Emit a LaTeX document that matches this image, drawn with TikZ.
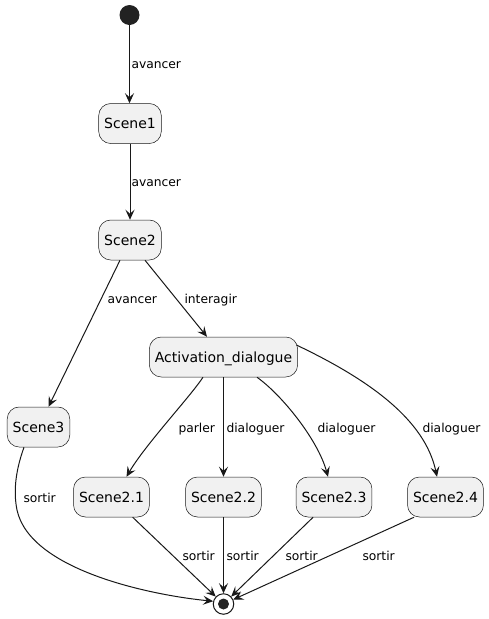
\documentclass[tikz,border=0pt]{standalone}
\usepackage{fontspec}
\setmainfont{DejaVu Sans}
\usetikzlibrary{arrows.meta}
\definecolor{ln}{HTML}{181818}
\definecolor{bx}{HTML}{F1F1F1}
\definecolor{dot}{HTML}{222222}
\begin{document}
\begin{tikzpicture}[x=1pt,y=-1pt,
 state/.style={draw=ln, line width=0.5pt, fill=bx, rounded corners=12pt, minimum height=40pt,
   inner xsep=5.5pt, inner ysep=0pt, font=\fontsize{14}{16}\selectfont, text height=10.5pt, text depth=0pt},
 arr/.style={draw=ln, line width=1pt, -{Stealth[length=10pt,width=9pt,inset=4pt]}},
 lbl/.style={anchor=base west, inner sep=0pt, font=\fontsize{12.3}{14}\selectfont}]
\useasboundingbox (0,0) rectangle (488,619);
\node[circle, fill=dot, minimum size=20pt, inner sep=0pt] (start) at (129.5,15) {};
\node[state] (s1) at (130,123.5) {Scene1};
\node[state] (s2) at (130,240) {Scene2};
\node[state] (act) at (223.5,357) {Activation\_dialogue};
\node[state] (s3) at (38.5,427) {Scene3};
\node[state] (s21) at (111.5,497) {Scene2.1};
\node[state] (s22) at (223.5,497) {Scene2.2};
\node[state] (s23) at (334,497) {Scene2.3};
\node[state] (s24) at (445.5,497) {Scene2.4};
\node[circle, draw=ln, line width=1pt, fill=white, minimum size=20.5pt, inner sep=0pt] (end) at (223.5,604) {};
\node[circle, fill=dot, minimum size=11pt, inner sep=0pt] (endin) at (end) {};

\draw[arr] (start) -- (start |- s1.north) node[lbl] at (131,68) {avancer};
\draw[arr] (s1) -- (s2) node[lbl] at (131,186) {avancer};
\draw[arr] ([xshift=-10pt]s2.south) -- ([xshift=10pt]s3.north) node[lbl] at (107,303) {avancer};
\draw[arr] ([xshift=15pt]s2.south) -- ([xshift=-16.5pt]act.north) node[lbl] at (184,303) {interagir};
\draw[arr] ([xshift=-20.5pt]act.south) .. controls (190,397) and (145,445) .. ([xshift=15pt]s21.north) node[lbl] at (178,432) {parler};
\draw[arr] (act) -- (s22) node[lbl] at (226,432) {dialoguer};
\draw[arr] ([xshift=33.5pt]act.south) .. controls (282,395) and (318,440) .. ([xshift=-6pt]s23.north) node[lbl] at (317,432) {dialoguer};
\draw[arr] ([xshift=-1.5pt,yshift=12pt]act.east) .. controls (370,380) and (425,420) .. ([xshift=-8.5pt]s24.north) node[lbl] at (422,432) {dialoguer};
\draw[arr] ([xshift=-14.5pt]s3.south) .. controls (14,475) and (14,495) .. (17,510) .. controls (30,570) and (150,595) .. (end.165) node[lbl] at (23,502) {sortir};
\draw[arr] (s21) -- (end) node[lbl] at (182,560) {sortir};
\draw[arr] (s22) -- (end) node[lbl] at (226,560) {sortir};
\draw[arr] (s23) -- (end) node[lbl] at (285,560) {sortir};
\draw[arr] ([xshift=-31.5pt]s24.south) -- (end) node[lbl] at (362,560) {sortir};
\end{tikzpicture}
\end{document}
